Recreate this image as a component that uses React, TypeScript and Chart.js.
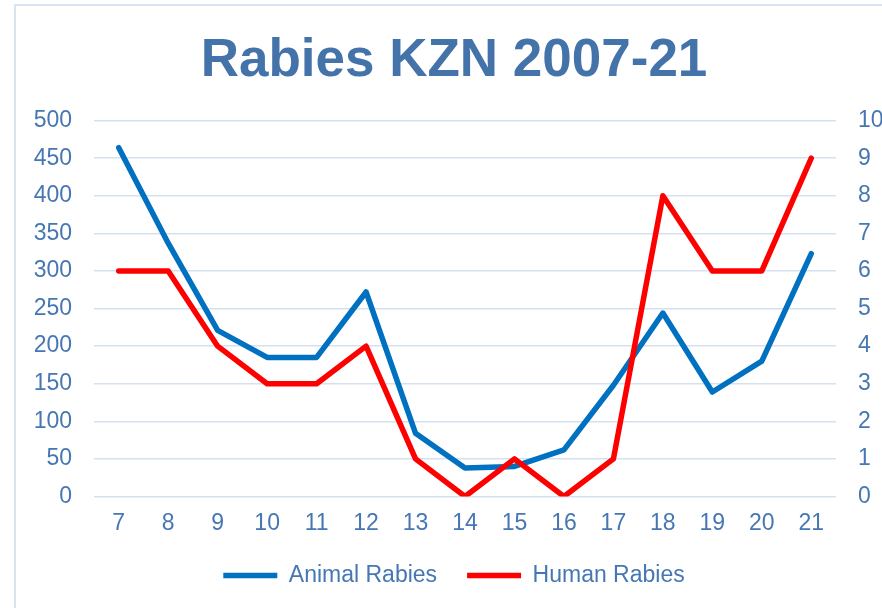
import React, { useEffect, useRef } from "react";
import { Chart, registerables } from "chart.js";

Chart.register(...registerables);

const years = ["7", "8", "9", "10", "11", "12", "13", "14", "15", "16", "17", "18", "19", "20", "21"];
const animalRabies = [464, 337, 221, 185, 185, 272, 84, 38, 40, 62, 148, 244, 139, 180, 323];
const humanRabies = [6, 6, 4, 3, 3, 4, 1, 0, 1, 0, 1, 8, 6, 6, 9];
const leftTicks = { min: 0, max: 500, step: 50 };
const rightTicks = { min: 0, max: 10, step: 1 };

const TICK_COLOR = "#4677b2";
const TITLE_COLOR = "#4473aa";
const GRID_COLOR = "#d6e1ef";
const FONT = "'Liberation Sans', Arial, sans-serif";

const W = 893;
const H = 608;

export default function App() {
  const ref = useRef<HTMLCanvasElement | null>(null);

  useEffect(() => {
    if (!ref.current) return;
    const chart = new Chart(ref.current, {
      type: "line",
      data: {
        labels: years,
        datasets: [
          {
            label: "Animal Rabies",
            data: animalRabies,
            borderColor: "#0070c0",
            backgroundColor: "#0070c0",
            borderWidth: 5.5,
            pointRadius: 0,
            borderJoinStyle: "round",
            borderCapStyle: "round",
            yAxisID: "y",
            order: 1,
          },
          {
            label: "Human Rabies",
            data: humanRabies,
            borderColor: "#ff0000",
            backgroundColor: "#ff0000",
            borderWidth: 5.5,
            pointRadius: 0,
            borderJoinStyle: "round",
            borderCapStyle: "round",
            yAxisID: "y1",
            order: 0,
          },
        ],
      },
      options: {
        responsive: false,
        animation: false,
        layout: { padding: { left: 15, right: 0, top: 0, bottom: 11 } },
        plugins: {
          title: {
            display: true,
            text: "Rabies KZN 2007-21",
            color: TITLE_COLOR,
            font: { family: FONT, size: 53, weight: "bold" },
            padding: { top: 30, bottom: 27 },
          },
          legend: {
            position: "bottom",
            labels: {
              usePointStyle: true,
              pointStyle: "line",
              pointStyleWidth: 54,
              padding: 30,
              color: TICK_COLOR,
              font: { family: FONT, size: 23 },
              sort: (a: any, b: any) => a.datasetIndex - b.datasetIndex,
            },
          },
          tooltip: { enabled: false },
        },
        scales: {
          x: {
            offset: true,
            grid: { display: false, drawTicks: false },
            border: { display: false },
            ticks: { color: TICK_COLOR, font: { family: FONT, size: 23 }, padding: 13, maxRotation: 0 },
            afterFit: (s: any) => {
              s.height = 37.5;
            },
          },
          y: {
            position: "left",
            min: leftTicks.min,
            max: leftTicks.max,
            ticks: { stepSize: leftTicks.step, color: TICK_COLOR, font: { family: FONT, size: 23 }, padding: 22 },
            grid: { color: GRID_COLOR, lineWidth: 1.5, drawTicks: false },
            border: { display: false },
            afterFit: (s: any) => {
              s.width = 79;
            },
          },
          y1: {
            position: "right",
            min: rightTicks.min,
            max: rightTicks.max,
            ticks: { stepSize: rightTicks.step, color: TICK_COLOR, font: { family: FONT, size: 23 }, padding: 22 },
            grid: { display: false, drawTicks: false },
            border: { display: false },
            afterFit: (s: any) => {
              s.width = 57;
            },
          },
        },
      },
    });
    return () => chart.destroy();
  }, []);

  return (
    <div style={{ position: "fixed", left: 0, top: 0, width: 882, height: 608, overflow: "hidden", background: "#fff" }}>
      <canvas ref={ref} width={W} height={H} style={{ position: "absolute", left: 0, top: 0, width: W, height: H }} />
      <div
        style={{
          position: "absolute",
          left: 14,
          top: 4,
          width: 1000,
          height: 1000,
          borderLeft: "2.5px solid #d9e4f1",
          borderTop: "2.5px solid #d9e4f1",
          pointerEvents: "none",
        }}
      />
    </div>
  );
}
